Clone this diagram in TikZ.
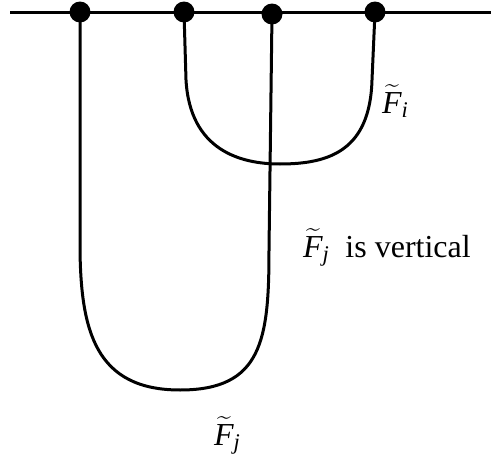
\documentclass[tikz,border=0pt]{standalone}
\usepackage{fix-cm}
\usepackage{amsmath}
\usepackage{fontspec}
\setmainfont{Liberation Serif}
\begin{document}
\begin{tikzpicture}[x=1pt,y=-1pt,
  dot/.style={circle,fill=black,inner sep=0pt,minimum size=21pt},
  curve/.style={line width=3pt},
  lbl/.style={inner sep=0pt,font=\fontsize{32}{38}\selectfont}]
\useasboundingbox (0,0) rectangle (491,466);
\coordinate (L) at (10,12);
\coordinate (R) at (491,12);
\node[dot] (d1) at (80,12) {};
\node[dot] (d2) at (184,12) {};
\node[dot] (d3) at (272,14) {};
\node[dot] (d4) at (375,12) {};
\draw[curve] (L) -- (R);
% big curve
\draw[curve] (d1.center) -- (80,250)
  .. controls (81,330) and (95,390) .. (180,390)
  .. controls (262,390) and (269,340) .. (269,250)
  -- (d3.center);
% small curve
\draw[curve] (d2.center) -- (186,80)
  .. controls (190,150) and (240,164) .. (280,164)
  .. controls (330,164) and (370,150) .. (372,80)
  -- (d4.center);
\node[lbl,anchor=base west] (fi) at (382,113) {$\widetilde{\textit{F}}_{\textit{i}}$};
\node[lbl,anchor=base west] (fj) at (303,257) {$\widetilde{\textit{F}}_{\textit{j}}$\ \ is vertical};
\node[lbl,anchor=base west] (fj2) at (214,445) {$\widetilde{\textit{F}}_{\textit{j}}$};
\end{tikzpicture}
\end{document}
